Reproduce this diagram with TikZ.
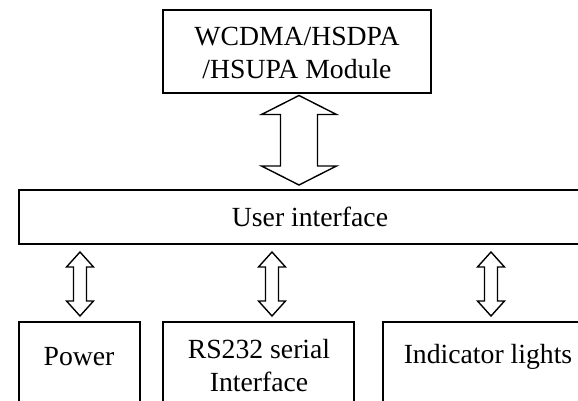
\documentclass[tikz,border=0pt]{standalone}
\usepackage{fontspec}
\setmainfont{Liberation Serif}
\usetikzlibrary{calc}
\newcommand\blockarrow[5]{%
  \draw[arrowline] let \p1=(#1), \p2=(#2) in
    (\x1,\y1) -- (\x1+#4pt,\y1-#5pt) -- (\x1+#3pt,\y1-#5pt) -- (\x1+#3pt,\y2+#5pt)
    -- (\x1+#4pt,\y2+#5pt) -- (\x2,\y2) -- (\x1-#4pt,\y2+#5pt) -- (\x1-#3pt,\y2+#5pt)
    -- (\x1-#3pt,\y1-#5pt) -- (\x1-#4pt,\y1-#5pt) -- cycle;}
\begin{document}
\begin{tikzpicture}[x=1pt,y=-1pt,
  box/.style={draw, line width=2pt, rectangle, inner sep=0pt},
  lbl/.style={font=\fontsize{27.7}{33}\selectfont, inner sep=0pt, align=center},
  arrowline/.style={line width=1.4pt, line join=miter, miter limit=10}]
\useasboundingbox (0,0) rectangle (578,401);
\clip (0,0) rectangle (578,401);
% boxes
\node[box, minimum width=268pt, minimum height=83pt] (mod) at (297,51.3) {};
\node[lbl] (modt) at (297,53) {WCDMA/HSDPA\\/HSUPA Module};
\node[box, minimum width=600pt, minimum height=54pt] (ui) at (319,216.5) {};
\node[lbl] (uit) at (310,217) {User interface};
\node[box, minimum width=121pt, minimum height=139pt] (pw) at (79.5,391) {};
\node[box, minimum width=191pt, minimum height=139pt] (rs) at (258.5,391) {};
\node[box, minimum width=267pt, minimum height=139pt] (ind) at (516.5,391) {};
\node[lbl] (pwt) at (79,357) {Power};
\node[lbl] (rst) at (259,366) {RS232 serial\\Interface};
\node[lbl] (indt) at (488,357) {Indicator lights};
% arrow tips
\coordinate (bT) at (299,95.5);
\coordinate (bB) at (299,185);
\coordinate (a1T) at (80,252);
\coordinate (a1B) at (80,316);
\coordinate (a2T) at (272,252);
\coordinate (a2B) at (272,316);
\coordinate (a3T) at (491,252);
\coordinate (a3B) at (491,316);
\blockarrow{bT}{bB}{18.5}{37.5}{19}
\blockarrow{a1T}{a1B}{6.5}{13.5}{15}
\blockarrow{a2T}{a2B}{6.5}{13.5}{15}
\blockarrow{a3T}{a3B}{6.5}{13.5}{15}
\end{tikzpicture}
\end{document}
